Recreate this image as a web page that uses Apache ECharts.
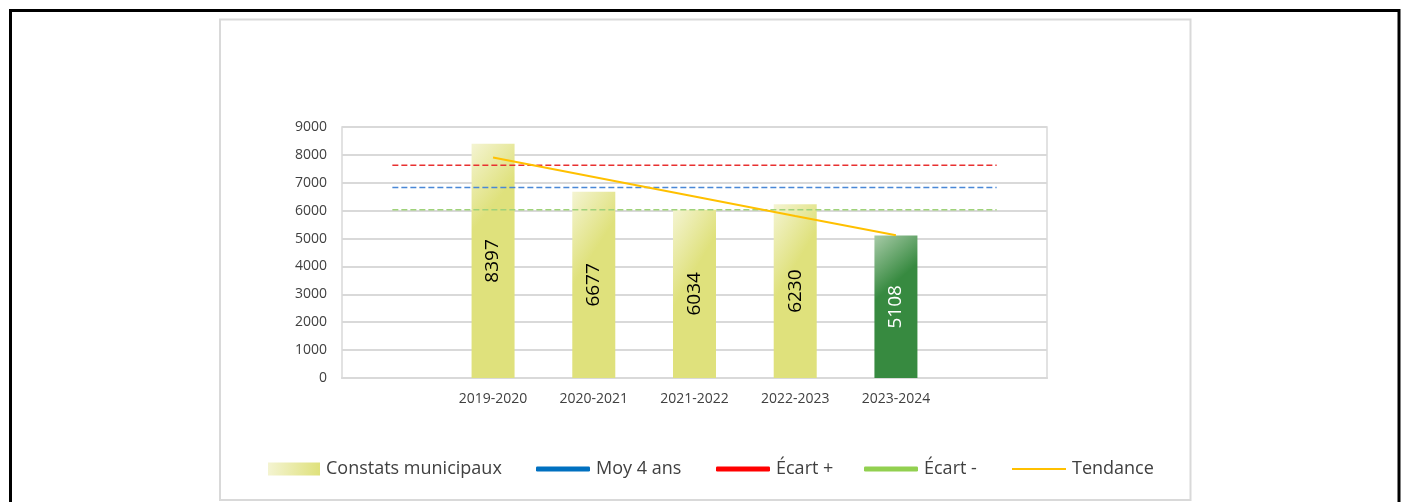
<!DOCTYPE html>
<html>
<head>
<meta charset="utf-8">
<script src="https://cdn.jsdelivr.net/npm/echarts@6/dist/echarts.min.js"></script>
<style>
  html, body { margin: 0; padding: 0; background: #fff; }
  #chart { width: 1405px; height: 502px; }
</style>
</head>
<body>
<div id="chart"></div>
<script>
// categories (first and last slots are empty, like the source sheet)
const saisons = ['', '2019-2020', '2020-2021', '2021-2022', '2022-2023', '2023-2024', ''];
const constats = [null, 8397, 6677, 6034, 6230, 5108, null];
const moy4ans = [6830, 6830, 6830, 6830, 6830, 6830, 6830];
const ecartPlus = [7630, 7630, 7630, 7630, 7630, 7630, 7630];
const ecartMoins = [6030, 6030, 6030, 6030, 6030, 6030, 6030];
const tendance = [null, 7910, 7210, 6510, 5810, 5120, null];
const yTicks = [0, 9000, 1000]; // min, max, interval

const font = '"Open Sans", "Liberation Sans", sans-serif';

const jaune = new echarts.graphic.LinearGradient(0, 0, 1, 0.15, [
  { offset: 0, color: '#f4f4d2' },
  { offset: 1, color: '#dfe17c' }
]);
const vert = new echarts.graphic.LinearGradient(0, 0, 1, 0.35, [
  { offset: 0, color: '#a8cba8' },
  { offset: 0.75, color: '#378a40' },
  { offset: 1, color: '#378a40' }
]);

const barData = constats.map((v, i) => {
  const last = i === 5;
  return {
    value: v,
    itemStyle: { color: last ? vert : jaune },
    label: { color: last ? '#ffffff' : '#000000' }
  };
});

function legende(left, name, opts) {
  return Object.assign({
    left: left,
    top: 460,
    itemGap: 0,
    padding: 0,
    selectedMode: false,
    textStyle: { fontFamily: font, fontSize: 18, color: '#404040', padding: [0, 0, 0, 1] },
    data: [name]
  }, opts);
}

const chart = echarts.init(document.getElementById('chart'));
chart.setOption({
  animation: false,
  graphic: [
    { type: 'rect', shape: { x: 10.5, y: 10.5, width: 1388.5, height: 600 }, style: { fill: 'none', stroke: '#000', lineWidth: 3 }, silent: true },
    { type: 'rect', shape: { x: 220, y: 19.5, width: 970.5, height: 480.5 }, style: { fill: 'none', stroke: '#d9d9d9', lineWidth: 2 }, silent: true }
  ],
  grid: {
    left: 342, top: 127, right: 358, bottom: 124,
    show: true, borderColor: '#d9d9d9', borderWidth: 1.5
  },
  legend: [
    legende(268, 'Constats municipaux', { icon: 'rect', itemWidth: 52, itemHeight: 13 }),
    legende(536, 'Moy 4 ans', { icon: 'roundRect', itemWidth: 54, itemHeight: 5, data: [{ name: 'Moy 4 ans', itemStyle: { color: '#0070c0' } }] }),
    legende(716, 'Écart +', { icon: 'roundRect', itemWidth: 54, itemHeight: 5, data: [{ name: 'Écart +', itemStyle: { color: '#ff0000' } }] }),
    legende(864, 'Écart -', { icon: 'roundRect', itemWidth: 54, itemHeight: 5, data: [{ name: 'Écart -', itemStyle: { color: '#92d050' } }] }),
    legende(1012, 'Tendance', { icon: 'rect', itemWidth: 54, itemHeight: 2, data: [{ name: 'Tendance', itemStyle: { color: '#ffc000' } }] })
  ],
  xAxis: {
    type: 'category',
    data: saisons,
    axisLine: { lineStyle: { color: '#d9d9d9', width: 2 } },
    axisTick: { show: false },
    axisLabel: { fontFamily: font, fontSize: 14, color: '#404040', margin: 14, interval: 0 }
  },
  yAxis: {
    type: 'value',
    min: yTicks[0], max: yTicks[1], interval: yTicks[2],
    axisLine: { show: false },
    axisTick: { show: false },
    splitLine: { lineStyle: { color: '#d9d9d9', width: 2 } },
    axisLabel: { fontFamily: font, fontSize: 14, color: '#404040', margin: 15, formatter: v => String(v) }
  },
  series: [
    {
      name: 'Constats municipaux',
      type: 'bar',
      barWidth: 43,
      data: barData,
      itemStyle: { color: jaune },
      label: {
        show: true, position: 'inside', rotate: 90,
        fontFamily: font, fontSize: 19
      }
    },
    {
      name: 'Moy 4 ans', type: 'line', data: moy4ans, symbol: 'none', z: 3,
      lineStyle: { color: '#4a88d6', width: 1.5, type: [6, 3] }, itemStyle: { color: '#4a88d6' }
    },
    {
      name: 'Écart +', type: 'line', data: ecartPlus, symbol: 'none', z: 3,
      lineStyle: { color: '#e83030', width: 1.5, type: [6, 3] }, itemStyle: { color: '#e83030' }
    },
    {
      name: 'Écart -', type: 'line', data: ecartMoins, symbol: 'none', z: 3,
      lineStyle: { color: '#9fd27a', width: 1.5, type: [6, 3] }, itemStyle: { color: '#9fd27a' }
    },
    {
      name: 'Tendance', type: 'line', data: tendance, symbol: 'none', z: 4,
      lineStyle: { color: '#ffc000', width: 2 }, itemStyle: { color: '#ffc000' }
    }
  ]
});
</script>
</body>
</html>
